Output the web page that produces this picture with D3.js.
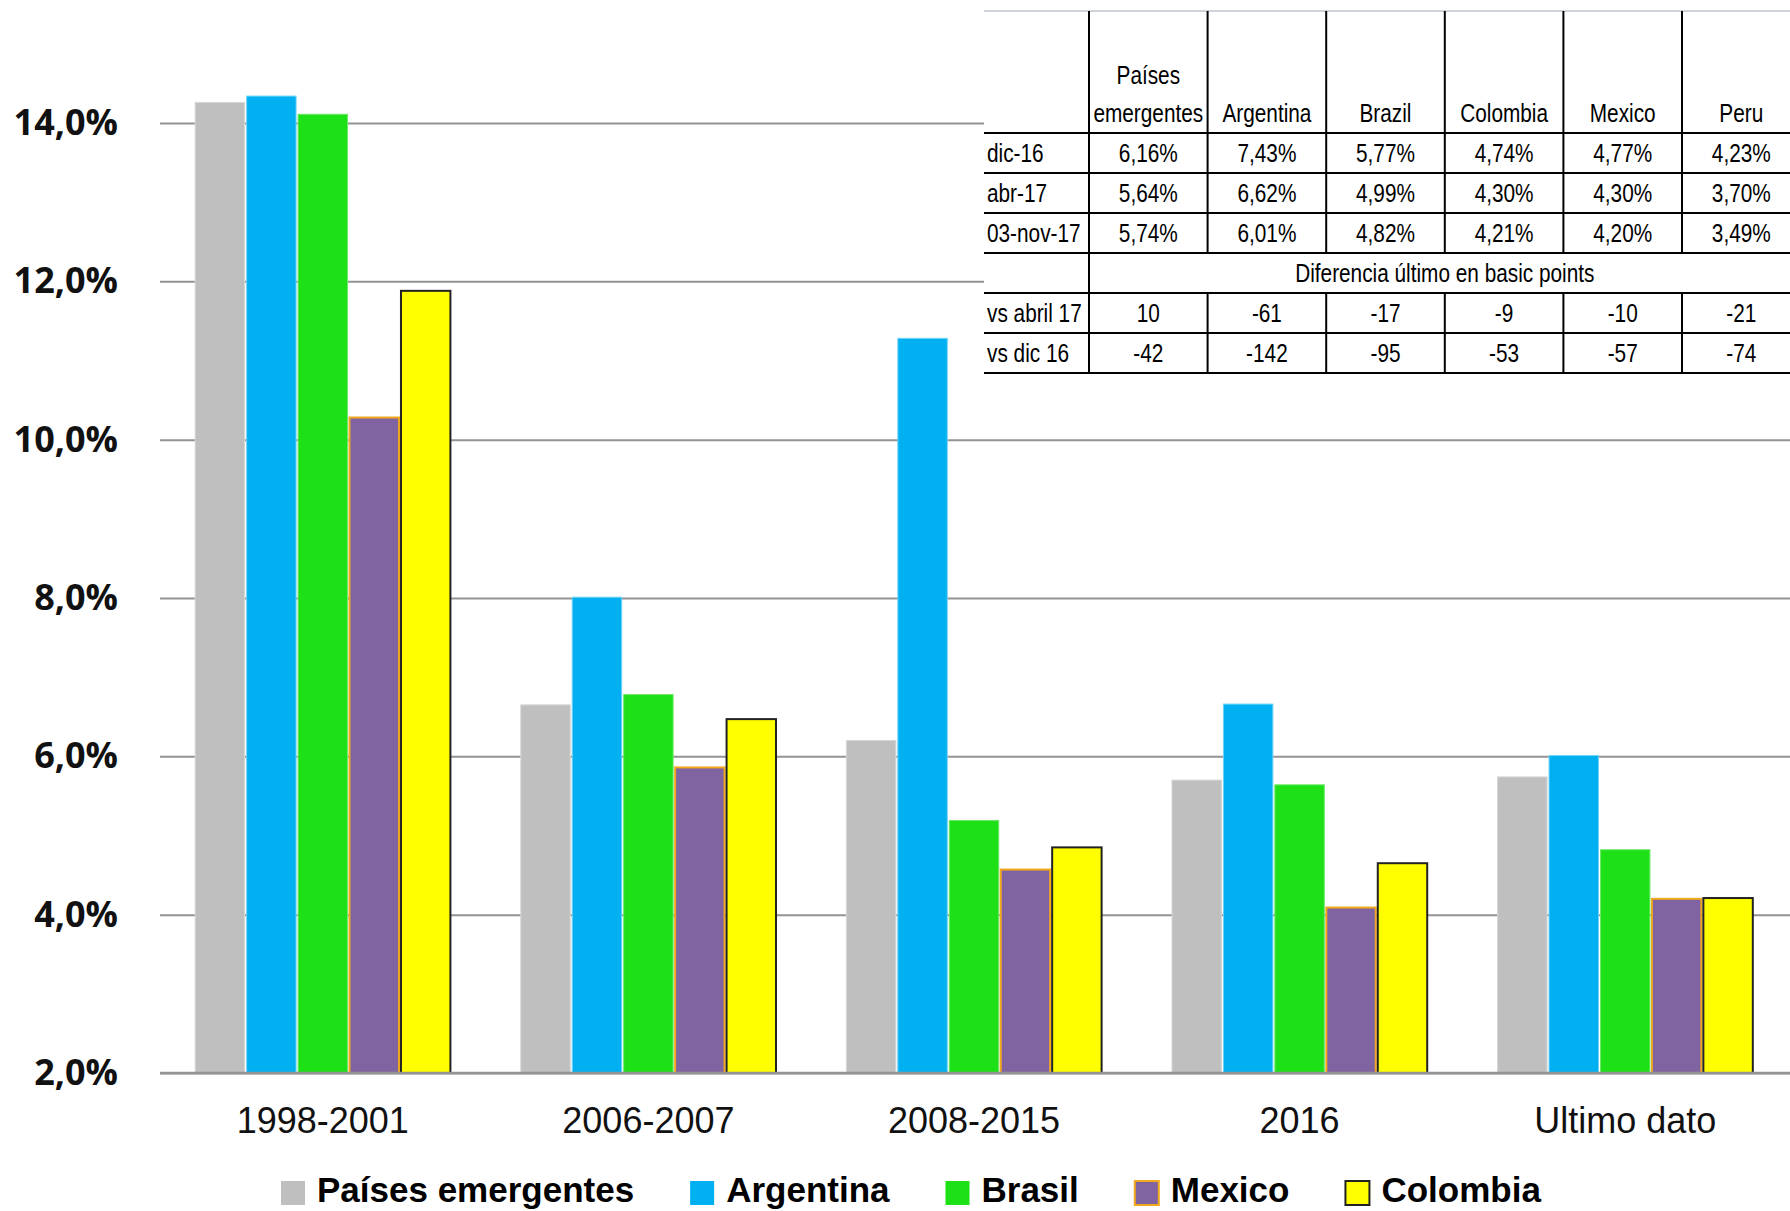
<!DOCTYPE html>
<html>
<head>
<meta charset="utf-8">
<script src="https://cdn.jsdelivr.net/npm/d3@7"></script>
<style>
body { margin: 0; background: #fff; }
</style>
</head>
<body>
<script>
// chart data
var periods = [ "1998-2001", "2006-2007", "2008-2015", "2016", "Ultimo dato" ];
var seriesNames = [ "Países emergentes", "Argentina", "Brasil", "Mexico", "Colombia" ];
var emergentes = [ 14.26, 6.65, 6.20, 5.70, 5.74 ];
var argentina  = [ 14.34, 8.01, 11.28, 6.66, 6.01 ];
var brasil     = [ 14.11, 6.78, 5.19, 5.64, 4.82 ];
var mexico     = [ 10.28, 5.86, 4.57, 4.09, 4.20 ];
var colombia   = [ 11.88, 6.47, 4.85, 4.65, 4.21 ];
var yTicks = [ 2, 4, 6, 8, 10, 12, 14 ];

// table data
var tableCols = [ "Países emergentes", "Argentina", "Brazil", "Colombia", "Mexico", "Peru" ];
var rowDic16  = [ 6.16, 7.43, 5.77, 4.74, 4.77, 4.23 ];
var rowAbr17  = [ 5.64, 6.62, 4.99, 4.30, 4.30, 3.70 ];
var rowNov17  = [ 5.74, 6.01, 4.82, 4.21, 4.20, 3.49 ];
var bpAbril17 = [ 10, -61, -17, -9, -10, -21 ];
var bpDic16   = [ -42, -142, -95, -53, -57, -74 ];
var diffTitle = "Diferencia último en basic points";

var width = 1790;
var height = 1211;

var colors = [ "#BFBFBF", "#00B0F0", "#1DE016", "#8064A2", "#FFFF00" ];
var edges  = [ "#d6d6d6", "#6fd3f7", "#6ee86a", "#F2A81D", "#222222" ];

var es = d3.formatLocale( { decimal: ",", thousands: ".", grouping: [3], currency: [ "", "€" ], minus: "-" } );
var pct1 = es.format( ".1f" );
var pct2 = es.format( ".2f" );
var intf = es.format( "d" );

var svg = d3.select( "body" )
    .append( "svg" )
    .attr( "width", width )
    .attr( "height", height );

var x = d3.scaleBand()
    .domain( periods )
    .range( [160, 1788] )
    .paddingInner( 0.21 )
    .paddingOuter( 0.105 );

var xs = d3.scaleBand()
    .domain( seriesNames )
    .range( [0, x.bandwidth()] );

var y = d3.scaleLinear()
    .domain( [2, 14] )
    .range( [1073, 123] );

// gridlines
var grid = svg.append( "g" )
    .attr( "transform", "translate(160,0)" )
    .call( d3.axisLeft( y ).tickValues( yTicks ).tickSize( -(width - 160) ).tickFormat( "" ) );
grid.select( ".domain" ).remove();
grid.selectAll( "line" )
    .attr( "stroke", "#939393" )
    .attr( "stroke-width", 2 );

// bars
var allSeries = [ emergentes, argentina, brasil, mexico, colombia ];
var rows = periods.map( function( p, i ) {
    return seriesNames.map( function( s, j ) {
        return { period: p, name: s, value: allSeries[j][i], idx: j };
    } );
} );

var groups = svg.selectAll( "g.grp" )
    .data( rows )
    .enter()
    .append( "g" )
    .attr( "class", "grp" )
    .attr( "transform", function( d, i ) { return "translate(" + x( periods[i] ) + ",0)"; } );

groups.selectAll( "rect" )
    .data( function( d ) { return d; } )
    .enter()
    .append( "rect" )
    .attr( "x", function( d ) { return xs( d.name ) + 1; } )
    .attr( "y", function( d ) { return y( d.value ); } )
    .attr( "width", xs.bandwidth() - 2 )
    .attr( "height", function( d ) { return y( 2 ) - y( d.value ); } )
    .attr( "fill", function( d ) { return colors[d.idx]; } )
    .attr( "stroke", function( d ) { return edges[d.idx]; } )
    .attr( "stroke-width", function( d ) { return d.idx >= 3 ? 2 : 1; } );

// baseline on top of the bars
svg.append( "line" )
    .attr( "x1", 160 ).attr( "x2", width )
    .attr( "y1", y( 2 ) ).attr( "y2", y( 2 ) )
    .attr( "stroke", "#939393" )
    .attr( "stroke-width", 2.5 );

// y labels
var yAxis = svg.append( "g" )
    .attr( "transform", "translate(160,0)" )
    .call( d3.axisLeft( y ).tickValues( yTicks ).tickSize( 0 ).tickPadding( 42 )
        .tickFormat( function( d ) { return pct1( d ) + "%"; } ) );
yAxis.select( ".domain" ).remove();
yAxis.selectAll( "text" )
    .attr( "fill", "#111" )
    .style( "font-family", "'Open Sans', sans-serif" )
    .style( "font-weight", "bold" )
    .style( "font-size", "36px" );

// x labels
var xAxis = svg.append( "g" )
    .attr( "transform", "translate(0," + y( 2 ) + ")" )
    .call( d3.axisBottom( x ).tickSize( 0 ).tickPadding( 34 ) );
xAxis.select( ".domain" ).remove();
xAxis.selectAll( "text" )
    .attr( "fill", "#111" )
    .style( "font-family", "'Liberation Sans', Arial, sans-serif" )
    .style( "font-size", "36px" );

// legend
var legend = svg.append( "g" ).attr( "transform", "translate(281,0)" );
var lx = 0;
seriesNames.forEach( function( s, j ) {
    legend.append( "rect" )
        .attr( "x", lx ).attr( "y", 1181 )
        .attr( "width", 24 ).attr( "height", 24 )
        .attr( "fill", colors[j] )
        .attr( "stroke", j >= 3 ? edges[j] : "none" )
        .attr( "stroke-width", 2 );
    var t = legend.append( "text" )
        .attr( "x", lx + 36 ).attr( "y", 1202 )
        .style( "font-family", "'Liberation Sans', Arial, sans-serif" )
        .style( "font-weight", "bold" )
        .style( "font-size", "35px" )
        .attr( "fill", "#000" )
        .text( s );
    lx += 36 + t.node().getComputedTextLength() + 56;
} );

// table
var tX = 984, tTop = 11, headBot = 133, rowH = 40;
var colW = 118.6, firstW = 105;
var tRight = tX + firstW + colW * tableCols.length;
var colX = function( i ) { return tX + firstW + colW * i; };
var tbl = svg.append( "g" )
    .style( "font-family", "'Liberation Sans Narrow', 'Liberation Sans', sans-serif" )
    .style( "font-size", "26px" )
    .attr( "fill", "#000" );

// narrow text: squeeze horizontally like the spreadsheet font
function cellText( tx, ty, anchor, str ) {
    tbl.append( "text" )
        .attr( "transform", "translate(" + tx + "," + ty + ") scale(0.8,1)" )
        .attr( "text-anchor", anchor )
        .text( str );
}

var tBottom = headBot + rowH * 6;
tbl.append( "rect" )
    .attr( "x", tX ).attr( "y", tTop )
    .attr( "width", tRight - tX ).attr( "height", tBottom - tTop )
    .attr( "fill", "#fff" );
tbl.append( "line" )
    .attr( "x1", tX ).attr( "x2", tRight ).attr( "y1", tTop ).attr( "y2", tTop )
    .attr( "stroke", "#cfd3da" ).attr( "stroke-width", 2 );

// horizontal rules
d3.range( 7 ).forEach( function( k ) {
    tbl.append( "line" )
        .attr( "x1", tX ).attr( "x2", tRight )
        .attr( "y1", headBot + rowH * k ).attr( "y2", headBot + rowH * k )
        .attr( "stroke", "#000" ).attr( "stroke-width", 2 );
} );
// vertical rules
tableCols.forEach( function( c, i ) {
    var cx = colX( i );
    if ( i === 0 ) {
        tbl.append( "line" ).attr( "x1", cx ).attr( "x2", cx )
            .attr( "y1", tTop ).attr( "y2", tBottom )
            .attr( "stroke", "#000" ).attr( "stroke-width", 2 );
    } else {
        [ [tTop, headBot + rowH * 3], [headBot + rowH * 4, tBottom] ].forEach( function( seg ) {
            tbl.append( "line" ).attr( "x1", cx ).attr( "x2", cx )
                .attr( "y1", seg[0] ).attr( "y2", seg[1] )
                .attr( "stroke", "#000" ).attr( "stroke-width", 2 );
        } );
    }
} );

// header
tableCols.forEach( function( c, i ) {
    var cx = colX( i ) + colW / 2;
    var parts = c.split( " " );
    parts.forEach( function( p, k ) {
        cellText( cx, 122 - ( parts.length - 1 - k ) * 38, "middle", p );
    } );
} );

var bodyRows = [
    { label: "dic-16", vals: rowDic16, fmt: function( v ) { return pct2( v ) + "%"; } },
    { label: "abr-17", vals: rowAbr17, fmt: function( v ) { return pct2( v ) + "%"; } },
    { label: "03-nov-17", vals: rowNov17, fmt: function( v ) { return pct2( v ) + "%"; } },
    null,
    { label: "vs abril 17", vals: bpAbril17, fmt: intf },
    { label: "vs dic 16", vals: bpDic16, fmt: intf }
];
bodyRows.forEach( function( r, k ) {
    var base = headBot + rowH * k + 29;
    if ( !r ) {
        cellText( ( colX( 0 ) + tRight ) / 2, base, "middle", diffTitle );
        return;
    }
    cellText( tX + 3, base, "start", r.label );
    r.vals.forEach( function( v, i ) {
        cellText( colX( i ) + colW / 2, base, "middle", r.fmt( v ) );
    } );
} );
</script>
</body>
</html>
